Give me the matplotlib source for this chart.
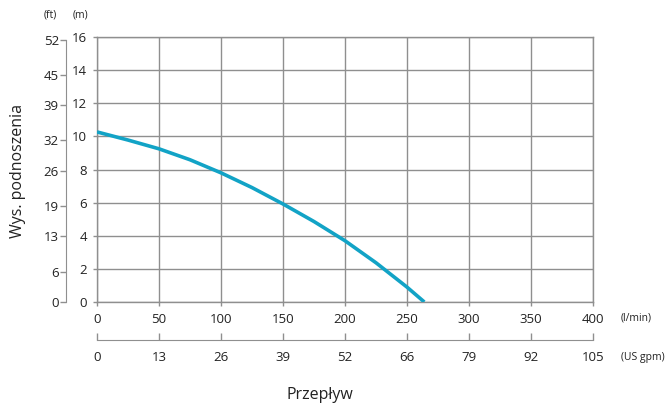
import matplotlib
matplotlib.use('Agg')
import matplotlib.pyplot as plt
import numpy as np

plt.rcParams['font.family'] = ['Open Sans', 'DejaVu Sans']

# pump curve, flow in l/min, head in m
flow = [0, 25, 50, 75, 100, 125, 150, 175, 200, 225, 250, 264]
head = [10.27, 9.78, 9.25, 8.59, 7.8, 6.91, 5.92, 4.86, 3.7, 2.37, 0.9, 0.0]

m_ticks = [0, 2, 4, 6, 8, 10, 12, 14, 16]
ft_ticks = [0, 6, 13, 19, 26, 32, 39, 45, 52]
lmin_ticks = [0, 50, 100, 150, 200, 250, 300, 350, 400]
gpm_labels = ['0', '13', '26', '39', '52', '66', '79', '92', '105']

grid_c = '#8f8f8f'
line_c = '#12a3c6'
txt_c = '#222222'

fig = plt.figure(figsize=(6.67, 4.07), dpi=100)
ax = fig.add_axes([0.1454, 0.258, 0.7436, 0.651])

ax.plot(flow, head, color=line_c, lw=2.6, solid_capstyle='butt',
        solid_joinstyle='round', zorder=3)

ax.set_xlim(0, 400)
ax.set_ylim(0, 16)
ax.set_xticks(lmin_ticks)
ax.set_yticks(m_ticks)
ax.grid(True, color=grid_c, lw=1.0)
for s in ax.spines.values():
    s.set_color(grid_c)
    s.set_linewidth(1.0)
ax.tick_params(colors=grid_c, labelcolor=txt_c, labelsize=9.5, length=3, width=1)
ax.tick_params(axis='x', pad=5)
ax.tick_params(axis='y', pad=4)

# second flow axis in US gpm
ax2 = ax.secondary_xaxis(-0.143)
ax2.set_xticks(lmin_ticks)
ax2.set_xticklabels(gpm_labels)
ax2.tick_params(colors=grid_c, labelcolor=txt_c, labelsize=9.5, length=5, width=1,
                direction='in', pad=8)
ax2.spines['bottom'].set_color(grid_c)

# head axis in ft
conv = 3.2808
axf = ax.secondary_yaxis(-0.0625, functions=(lambda m: m * conv, lambda f: f / conv))
axf.set_yticks(ft_ticks)
axf.tick_params(colors=grid_c, labelcolor=txt_c, labelsize=9.5, length=4, width=1, pad=1)
axf.spines['left'].set_color(grid_c)
axf.spines['left'].set_bounds(0, 52)

unit_fs = 7.5
fig.text(0.075, 0.963, '(ft)', fontsize=unit_fs, color=txt_c, ha='center', va='center')
fig.text(0.12, 0.963, '(m)', fontsize=unit_fs, color=txt_c, ha='center', va='center')
fig.text(0.93, 0.218, '(l/min)', fontsize=unit_fs, color=txt_c, ha='left', va='center')
fig.text(0.997, 0.122, '(US gpm)', fontsize=unit_fs, color=txt_c, ha='right', va='center')

fig.text(0.48, 0.03, 'Przepływ', fontsize=11.5, color=txt_c, ha='center', va='center')
fig.text(0.027, 0.58, 'Wys. podnoszenia', fontsize=11.5, color=txt_c, ha='center',
         va='center', rotation=90)

fig.savefig('out.png', dpi=100)
